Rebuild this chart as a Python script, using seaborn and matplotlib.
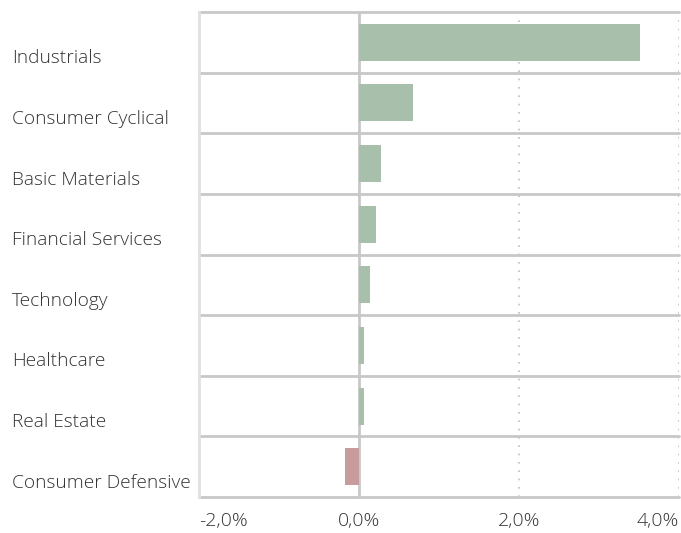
import matplotlib
matplotlib.use("Agg")
import matplotlib.pyplot as plt
import matplotlib.transforms as mtransforms
import seaborn as sns
import pandas as pd

# sector contribution values (percent)
sectors = ['Industrials', 'Consumer Cyclical', 'Basic Materials', 'Financial Services',
           'Technology', 'Healthcare', 'Real Estate', 'Consumer Defensive']
values = [3.51, 0.67, 0.28, 0.21, 0.14, 0.06, 0.06, -0.18]
x_ticks = [-2, 0, 2, 4]
x_labels = ['-2,0%', '0,0%', '2,0%', '4,0%']

df = pd.DataFrame({'sector': sectors, 'value': values})
df['sign'] = ['pos' if v >= 0 else 'neg' for v in values]

sns.set_style('white')
plt.rcParams['font.family'] = ['Open Sans', 'DejaVu Sans']
plt.rcParams['font.weight'] = 'light'

fig = plt.figure(figsize=(6.81, 5.33), dpi=100)
ax = fig.add_axes([199 / 681, 1 - 497 / 533, 480 / 681, 485 / 533])

sns.barplot(data=df, x='value', y='sector', hue='sign',
            palette={'pos': '#a8bfac', 'neg': '#c89b9c'}, saturation=1,
            dodge=False, legend=False, width=0.61, linewidth=0, ax=ax, zorder=2)

ax.set_xlim(-2, 4)
ax.set_ylim(7.5, -0.5)
ax.set_xlabel('')
ax.set_ylabel('')

# grid lines
ax.axvline(0, color='#c8c8c8', lw=2, zorder=1)
for xv in [2, 4]:
    ax.axvline(xv, color='#bdbdbd', lw=1.2, ls=(0, (1, 4)), zorder=1)
for yv in [i - 0.5 for i in range(len(sectors) + 1)]:
    ax.axhline(yv, color='#c8c8c8', lw=2, zorder=1, clip_on=False)

for s in ['top', 'right', 'bottom']:
    ax.spines[s].set_visible(False)
ax.spines['left'].set_color('#e0e0e0')
ax.spines['left'].set_linewidth(2)

ax.set_xticks(x_ticks)
ax.set_xticklabels(x_labels)
ax.tick_params(axis='x', length=9, width=1.5, color='#e0e0e0', pad=1.5,
               labelsize=14, labelcolor='#333333')
xl = ax.get_xticklabels()
xl[0].set_horizontalalignment('left')
xl[-1].set_horizontalalignment('right')

# separators extend a bit left of the axis
ax.set_yticks([i - 0.5 for i in range(len(sectors) + 1)], minor=True)
ax.tick_params(axis='y', which='minor', length=10, width=2, color='#c8c8c8')
ax.tick_params(axis='y', which='major', length=0, pad=134.6,
               labelsize=13.8, labelcolor='#333333')
offset = mtransforms.ScaledTranslation(0, -0.14, fig.dpi_scale_trans)
for lab in ax.get_yticklabels():
    lab.set_horizontalalignment('left')
    lab.set_transform(lab.get_transform() + offset)

plt.savefig('out.png', dpi=100)
